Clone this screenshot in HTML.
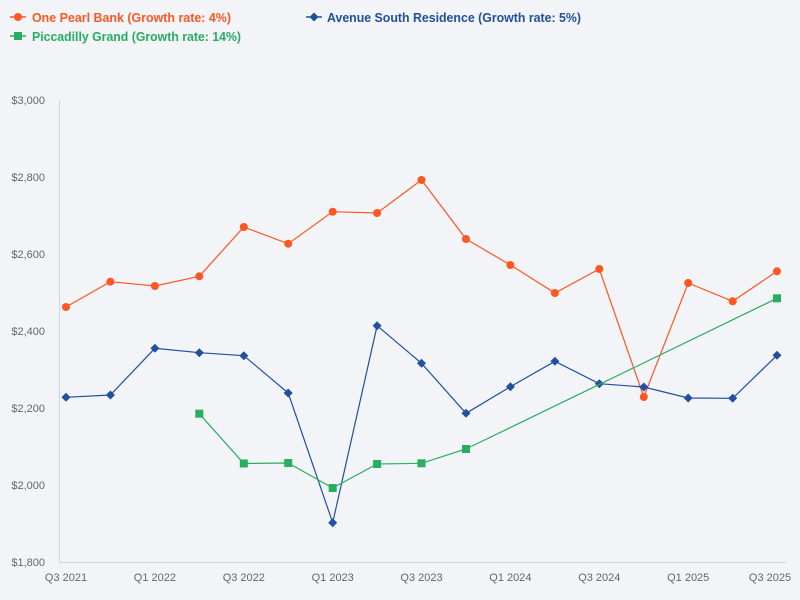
<!DOCTYPE html>
<html><head><meta charset="utf-8"><style>
html,body{margin:0;padding:0;background:#f2f4f7;}
svg{display:block;}
text{font-family:"Liberation Sans",sans-serif;}
</style></head><body>
<svg width="800" height="600" viewBox="0 0 800 600" xmlns="http://www.w3.org/2000/svg">
<rect width="800" height="600" fill="#f2f4f7"/>
<!-- legend -->
<line x1="10" y1="17" x2="26" y2="17" stroke="#ff5722" stroke-width="1.5"/>
<circle cx="18" cy="17" r="4" fill="#ff5722"/>
<text x="32" y="22" font-size="12.5" font-weight="bold" fill="#ff5722" textLength="199" lengthAdjust="spacingAndGlyphs">One Pearl Bank (Growth rate: 4%)</text>
<line x1="306" y1="17" x2="322" y2="17" stroke="#2150a0" stroke-width="1.5"/>
<path d="M314 12.5 L318.5 17 L314 21.5 L309.5 17Z" fill="#2150a0"/>
<text x="327" y="22" font-size="12.5" font-weight="bold" fill="#2150a0" textLength="254" lengthAdjust="spacingAndGlyphs">Avenue South Residence (Growth rate: 5%)</text>
<line x1="10" y1="36" x2="26" y2="36" stroke="#27ae60" stroke-width="1.5"/>
<rect x="14" y="32" width="8" height="8" fill="#27ae60"/>
<text x="32" y="41" font-size="12.5" font-weight="bold" fill="#27ae60" textLength="209" lengthAdjust="spacingAndGlyphs">Piccadilly Grand (Growth rate: 14%)</text>
<!-- axes -->
<line x1="59.5" y1="100" x2="59.5" y2="562" stroke="#ccd6eb" stroke-width="1"/>
<line x1="59" y1="562.5" x2="786" y2="562.5" stroke="#ccd6eb" stroke-width="1"/>
<g font-size="11" fill="#666666" text-anchor="end">
<text x="45" y="104">$3,000</text>
<text x="45" y="181">$2,800</text>
<text x="45" y="258">$2,600</text>
<text x="45" y="335">$2,400</text>
<text x="45" y="412">$2,200</text>
<text x="45" y="489">$2,000</text>
<text x="45" y="566">$1,800</text>
</g>
<g font-size="11" fill="#666666" text-anchor="middle">
<text x="66" y="581">Q3 2021</text>
<text x="154.9" y="581">Q1 2022</text>
<text x="243.8" y="581">Q3 2022</text>
<text x="332.7" y="581">Q1 2023</text>
<text x="421.5" y="581">Q3 2023</text>
<text x="510.4" y="581">Q1 2024</text>
<text x="599.3" y="581">Q3 2024</text>
<text x="688.2" y="581">Q1 2025</text>
<text x="770" y="581">Q3 2025</text>
</g>
<!-- series: orange -->
<polyline fill="none" stroke="#ff5722" stroke-width="1.2" points="66,307 110.4,281.7 154.9,286 199.3,276.3 243.8,227 288.2,243.7 332.7,211.7 377.1,213 421.5,180 466,239 510.4,265 554.9,293 599.3,269 643.8,397 688.2,283 732.7,301.3 777,271.3"/>
<g fill="#ff5722">
<circle cx="66" cy="307" r="4"/><circle cx="110.4" cy="281.7" r="4"/><circle cx="154.9" cy="286" r="4"/><circle cx="199.3" cy="276.3" r="4"/><circle cx="243.8" cy="227" r="4"/><circle cx="288.2" cy="243.7" r="4"/><circle cx="332.7" cy="211.7" r="4"/><circle cx="377.1" cy="213" r="4"/><circle cx="421.5" cy="180" r="4"/><circle cx="466" cy="239" r="4"/><circle cx="510.4" cy="265" r="4"/><circle cx="554.9" cy="293" r="4"/><circle cx="599.3" cy="269" r="4"/><circle cx="643.8" cy="397" r="4"/><circle cx="688.2" cy="283" r="4"/><circle cx="732.7" cy="301.3" r="4"/><circle cx="777" cy="271.3" r="4"/>
</g>
<!-- series: blue -->
<polyline fill="none" stroke="#2150a0" stroke-width="1.2" points="66,397.3 110.4,395 154.9,348.3 199.3,352.7 243.8,355.7 288.2,393 332.7,522.7 377.1,325.7 421.5,363.3 466,413.3 510.4,386.7 554.9,361.3 599.3,383.7 643.8,387 688.2,398 732.7,398.3 777,355.3"/>
<g fill="#2150a0">
<path d="M66 392.8l4.5 4.5-4.5 4.5-4.5-4.5z"/>
<path d="M110.4 390.5l4.5 4.5-4.5 4.5-4.5-4.5z"/>
<path d="M154.9 343.8l4.5 4.5-4.5 4.5-4.5-4.5z"/>
<path d="M199.3 348.2l4.5 4.5-4.5 4.5-4.5-4.5z"/>
<path d="M243.8 351.2l4.5 4.5-4.5 4.5-4.5-4.5z"/>
<path d="M288.2 388.5l4.5 4.5-4.5 4.5-4.5-4.5z"/>
<path d="M332.7 518.2l4.5 4.5-4.5 4.5-4.5-4.5z"/>
<path d="M377.1 321.2l4.5 4.5-4.5 4.5-4.5-4.5z"/>
<path d="M421.5 358.8l4.5 4.5-4.5 4.5-4.5-4.5z"/>
<path d="M466 408.8l4.5 4.5-4.5 4.5-4.5-4.5z"/>
<path d="M510.4 382.2l4.5 4.5-4.5 4.5-4.5-4.5z"/>
<path d="M554.9 356.8l4.5 4.5-4.5 4.5-4.5-4.5z"/>
<path d="M599.3 379.2l4.5 4.5-4.5 4.5-4.5-4.5z"/>
<path d="M643.8 382.5l4.5 4.5-4.5 4.5-4.5-4.5z"/>
<path d="M688.2 393.5l4.5 4.5-4.5 4.5-4.5-4.5z"/>
<path d="M732.7 393.8l4.5 4.5-4.5 4.5-4.5-4.5z"/>
<path d="M777 350.8l4.5 4.5-4.5 4.5-4.5-4.5z"/>
</g>
<!-- series: green -->
<polyline fill="none" stroke="#27ae60" stroke-width="1.2" points="199.3,413.7 243.8,463.5 288.2,463 332.7,488 377.1,464 421.5,463.3 466,449 777,298.3"/>
<g fill="#27ae60">
<rect x="195.3" y="409.7" width="8" height="8"/>
<rect x="239.8" y="459.5" width="8" height="8"/>
<rect x="284.2" y="459" width="8" height="8"/>
<rect x="328.7" y="484" width="8" height="8"/>
<rect x="373.1" y="460" width="8" height="8"/>
<rect x="417.5" y="459.3" width="8" height="8"/>
<rect x="462" y="445" width="8" height="8"/>
<rect x="773" y="294.3" width="8" height="8"/>
</g>
</svg>
</body></html>
